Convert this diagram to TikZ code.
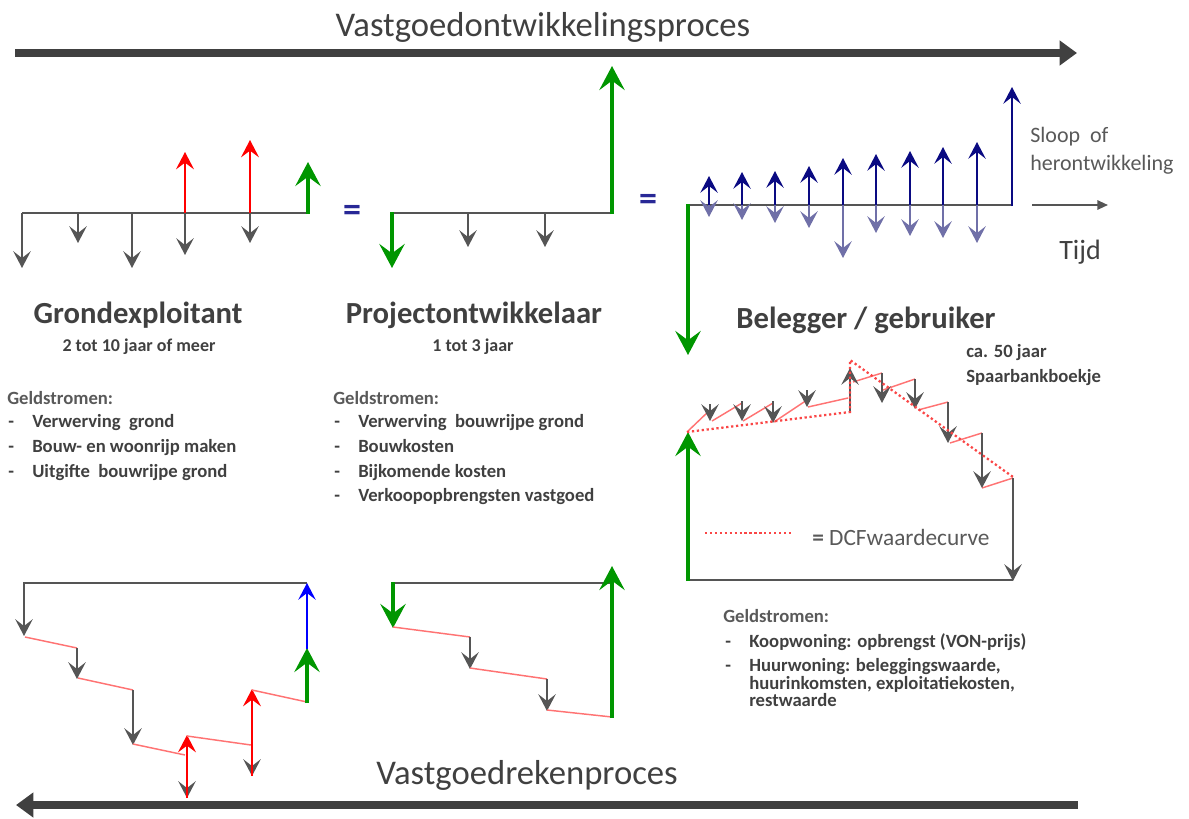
\documentclass[tikz,border=0pt]{standalone}
\usepackage{fontspec}
\setmainfont{Carlito}
\usetikzlibrary{arrows.meta}
\definecolor{cgray}{RGB}{85,85,85}
\definecolor{cbig}{RGB}{64,64,64}
\definecolor{cgreen}{RGB}{0,150,0}
\definecolor{cred}{RGB}{255,0,0}
\definecolor{csalmon}{RGB}{255,115,115}
\definecolor{cdcf}{RGB}{250,70,70}
\definecolor{cnavy}{RGB}{10,10,130}
\definecolor{clav}{RGB}{112,112,168}
\definecolor{cblue}{RGB}{0,0,255}
\definecolor{ceq}{RGB}{40,40,150}
\definecolor{tdark}{RGB}{64,64,64}
\definecolor{tlight}{RGB}{89,89,89}
\begin{document}
\begin{tikzpicture}[x=0.75pt,y=-0.75pt,
 bigarrow/.style={draw=cbig,line width=6pt,-{Triangle[length=13pt,width=18pt]}},
 gline/.style={draw=cgray,line width=1.9pt},
 garr/.style={gline,-{Stealth[length=12.5pt,width=13pt,inset=5pt]}},
 grarr/.style={draw=cgreen,line width=3.6pt,-{Stealth[length=18pt,width=19pt,inset=7pt]}},
 rarr/.style={draw=cred,line width=1.5pt,-{Stealth[length=13pt,width=13.5pt,inset=5pt]}},
 narr/.style={draw=cnavy,line width=2pt,-{Stealth[length=12.5pt,width=13pt,inset=5pt]}},
 larr/.style={draw=clav,line width=2pt,-{Stealth[length=12.5pt,width=13pt,inset=5pt]}},
 barr/.style={draw=cblue,line width=1.9pt,-{Stealth[length=12.5pt,width=13pt,inset=5pt]}},
 saw/.style={draw=csalmon,line width=1.1pt},
 dcf/.style={draw=cdcf,line width=1.7pt,dotted},
 titletxt/.style={font=\fontsize{26}{30}\selectfont,text=tdark,inner sep=0pt},
 headtxt/.style={font=\fontsize{23}{27}\selectfont\bfseries,text=tdark,inner sep=0pt},
 subtxt/.style={font=\fontsize{13.5}{16}\selectfont\bfseries,text=tdark,inner sep=0pt},
 geldtxt/.style={font=\fontsize{14}{16}\selectfont\bfseries,text=tlight,inner sep=0pt,anchor=west,text height=9.5pt,text depth=3pt},
 itemtxt/.style={font=\fontsize{14}{16}\selectfont\bfseries,text=tdark,inner sep=0pt,anchor=west,text height=9.5pt,text depth=3pt},
 lighttxt/.style={font=\fontsize{16.5}{20}\selectfont,text=tlight,inner sep=0pt,anchor=west,text height=11.5pt,text depth=3.5pt},
 eqtxt/.style={font=\fontsize{27}{30}\selectfont\bfseries,text=ceq,inner sep=0pt}
]
\useasboundingbox (0,0) rectangle (1189,818);

% ---- process arrows and titles
\draw[bigarrow] (15,53) -- (1077,53);
\node[titletxt] (t1) at (543,27) {Vastgoedontwikkelingsproces};
\draw[bigarrow] (1078,805) -- (16,805);
\node[titletxt] (t2) at (527,775) {Vastgoedrekenproces};

% ---- Grondexploitant (top)
\draw[gline] (22,213) -- (308,213);
\foreach \x/\y in {22/268,78/243,132/268,185/255,250/243}
  \draw[garr] (\x,213) -- (\x,\y);
\draw[rarr] (185,213) -- (185,152);
\draw[rarr] (250,213) -- (250,140);
\draw[grarr] (308,214) -- (308,162);

\node[eqtxt] (eq1) at (352,213) {=};

% ---- Projectontwikkelaar (top)
\draw[gline] (392,213) -- (612,213);
\draw[grarr] (392,212) -- (392,268);
\draw[garr] (468,213) -- (468,247);
\draw[garr] (545,213) -- (545,247);
\draw[grarr] (612,214) -- (612,66);

\node[eqtxt] (eq2) at (648,202) {=};

% ---- Belegger (top)
\draw[gline] (688,205) -- (1012,205);
\draw[grarr] (688,204) -- (688,355);
\foreach \x/\u/\d in {709/176/217,742/172/220,775/171/223,809/166/228,843/158/258,876/154/233,910/151/236,943/147/238,977/142/243}{
  \draw[larr] (\x,205) -- (\x,\d);
  \draw[narr] (\x,205) -- (\x,\u);
}
\draw[narr] (1012,206) -- (1012,87);
\draw[draw=cgray,line width=1.5pt,-{Triangle[length=8pt,width=7pt]}] (1032,205) -- (1108,205);
\node[lighttxt] (sloop) at (1030,137) {Sloop\ \ of};
\node[lighttxt] (heront) at (1030,165) {herontwikkeling};
\node[font=\fontsize{21}{25}\selectfont,text=tdark,inner sep=0pt] (tijd) at (1080,252) {Tijd};

% ---- headings
\node[headtxt] (hg) at (138,315) {Grondexploitant};
\node[subtxt] (sg) at (139,347) {2 tot 10 jaar of meer};
\node[headtxt] (hp) at (474,315) {Projectontwikkelaar};
\node[subtxt] (sp) at (473,347) {1 tot 3 jaar};
\node[headtxt] (hb) at (866,320) {Belegger / gebruiker};
\node[itemtxt] (ca) at (966,353) {ca. 50 jaar};
\node[itemtxt] (spaar) at (966,378) {Spaarbankboekje};

% ---- Geldstromen Grondexploitant
\node[geldtxt] (gg) at (7,400) {Geldstromen:};
\node[itemtxt] (gd1) at (8,423) {-};
\node[itemtxt] (gi1) at (32,423) {Verwerving\ \ grond};
\node[itemtxt] (gd2) at (8,448) {-};
\node[itemtxt] (gi2) at (32,448) {Bouw- en woonrijp maken};
\node[itemtxt] (gd3) at (8,473) {-};
\node[itemtxt] (gi3) at (32,473) {Uitgifte\ \ bouwrijpe grond};

% ---- Geldstromen Projectontwikkelaar
\node[geldtxt] (pg) at (333,400) {Geldstromen:};
\node[itemtxt] (pd1) at (334,423) {-};
\node[itemtxt] (pi1) at (358,423) {Verwerving\ \ bouwrijpe grond};
\node[itemtxt] (pd2) at (334,448) {-};
\node[itemtxt] (pi2) at (358,448) {Bouwkosten};
\node[itemtxt] (pd3) at (334,473) {-};
\node[itemtxt] (pi3) at (358,473) {Bijkomende kosten};
\node[itemtxt] (pd4) at (334,497) {-};
\node[itemtxt] (pi4) at (358,497) {Verkoopopbrengsten vastgoed};

% ---- Geldstromen Belegger
\node[geldtxt] (bg) at (723,618) {Geldstromen:};
\node[itemtxt] (bd1) at (725,643) {-};
\node[itemtxt] (bi1) at (749,643) {Koopwoning: opbrengst (VON-prijs)};
\node[itemtxt] (bd2) at (725,667) {-};
\node[itemtxt] (bi2) at (749,667) {Huurwoning: beleggingswaarde,};
\node[itemtxt] (bi3) at (749,685) {huurinkomsten, exploitatiekosten,};
\node[itemtxt] (bi4) at (749,702) {restwaarde};

% ---- Belegger value chart
\draw[gline] (688,580) -- (1013,580);
\draw[grarr] (688,581) -- (688,432);
\draw[saw] (687,432) -- (710,410);
\draw[saw] (712,421) -- (742,403);
\draw[saw] (743,421) -- (773,403);
\draw[saw] (774,422) -- (807,400);
\draw[saw] (808,407) -- (848,398);
\draw[saw] (853,382) -- (882,373);
\draw[saw] (883,390) -- (915,379);
\draw[saw] (918,410) -- (948,402);
\draw[saw] (950,443) -- (982,433);
\draw[saw] (982,488) -- (1013,478);
\foreach \x/\a/\b in {710/404/421,742/401/421,773/401/423,807/390/407,882/373/403,915/379/409,948/402/443,982/433/488}
  \draw[garr] (\x,\a) -- (\x,\b);
\draw[garr] (850,412) -- (850,368);
\draw[garr] (1013,478) -- (1013,581);
\draw[dcf] (687,432) -- (850,412) -- (850,360) -- (1013,477);
\draw[dcf] (705,533) -- (793,533);
\node[lighttxt,font=\fontsize{17.5}{20}\selectfont] (leg) at (812,540) {\textbf{=}\ DCFwaardecurve};

% ---- Grondexploitant (bottom)
\draw[gline] (24,583) -- (307,583);
\draw[garr] (24,582) -- (24,636);
\draw[saw] (25,637) -- (77,648);
\draw[garr] (77,648) -- (77,679);
\draw[saw] (78,678) -- (133,690);
\draw[garr] (133,690) -- (133,745);
\draw[saw] (133,744) -- (185,755);
\draw[garr] (187,755) -- (187,798);
\draw[rarr] (187,798) -- (187,735);
\draw[saw] (187,736) -- (251,745);
\draw[garr] (252,745) -- (252,776);
\draw[rarr] (252,776) -- (252,689);
\draw[saw] (252,690) -- (307,702);
\draw[grarr] (307,703) -- (307,648);
\draw[barr] (307,649) -- (307,583);

% ---- Projectontwikkelaar (bottom)
\draw[gline] (393,583) -- (612,583);
\draw[grarr] (393,582) -- (393,628);
\draw[saw] (393,627) -- (470,637);
\draw[garr] (470,637) -- (470,669);
\draw[saw] (470,668) -- (547,679);
\draw[garr] (547,679) -- (547,711);
\draw[saw] (547,710) -- (612,717);
\draw[grarr] (612,718) -- (612,566);
\end{tikzpicture}
\end{document}
